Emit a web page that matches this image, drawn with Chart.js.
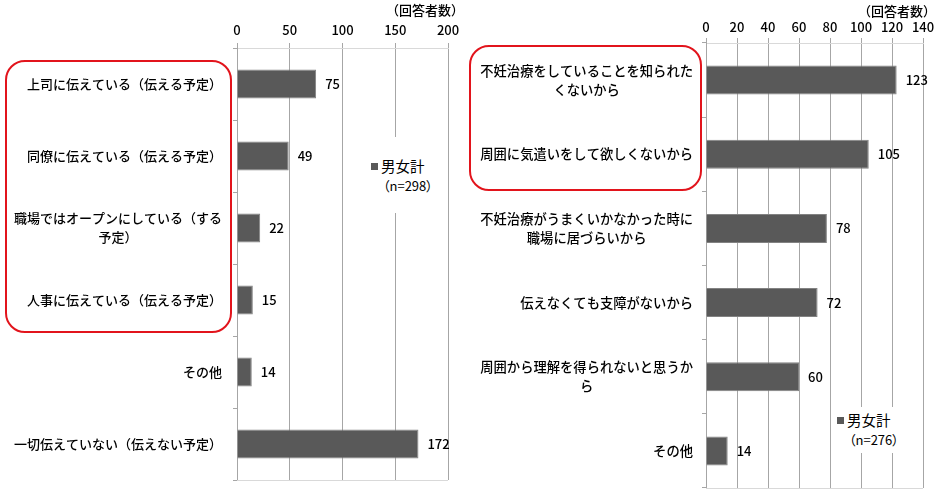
<!DOCTYPE html>
<html lang="ja">
<head>
<meta charset="utf-8">
<script src="https://cdn.jsdelivr.net/npm/chart.js@4.4.0/dist/chart.umd.min.js"></script>
<style>
  body { margin: 0; background: #fff; font-family: "Noto Sans CJK JP", sans-serif; }
  #wrap { position: relative; width: 943px; height: 496px; overflow: hidden; }
  canvas { position: absolute; top: 0; }
  .redbox { position: absolute; box-sizing: border-box; border: 2.5px solid #e2141c; border-radius: 20px; }
  .unit { position: absolute; font-size: 13px; font-weight: 500; color: #000; white-space: nowrap; }
  .legend { position: absolute; background: #fff; font-size: 14.5px; font-weight: 400; color: #000; line-height: 20px; padding: 0 4px; }
  .legend .sw { display: inline-block; width: 7px; height: 7px; background: #595959; margin-right: 3px; vertical-align: 2px; }
  .legend .n { font-size: 13px; font-feature-settings: "palt"; padding-left: 12px; }
</style>
</head>
<body>
<div id="wrap">
  <canvas id="chart-tell" width="470" height="496" style="left:0"></canvas>
  <canvas id="chart-why" width="473" height="496" style="left:470px"></canvas>
  <div class="redbox" style="left:5px;top:60px;width:227px;height:273px"></div>
  <div class="redbox" style="left:469px;top:45px;width:233px;height:146px"></div>
  <div class="unit" style="right:479px;top:0px">（回答者数）</div>
  <div class="unit" style="right:7px;top:1px">（回答者数）</div>
  <div class="legend" id="legend-tell" style="left:367px;top:137px;height:76px;padding-top:19px;box-sizing:border-box"></div>
  <div class="legend" id="legend-why" style="left:833px;top:407px;height:46px;padding-top:3px;box-sizing:border-box"></div>
</div>
<script>
// --- data ---
const seriesName = '男女計';

const tellCategories = [
  '上司に伝えている（伝える予定）',
  '同僚に伝えている（伝える予定）',
  ['職場ではオープンにしている（する', '予定）'],
  '人事に伝えている（伝える予定）',
  'その他',
  '一切伝えていない（伝えない予定）'
];
const tellValues = [75, 49, 22, 15, 14, 172];
const tellTotal = 298;
const tellTicks = [0, 50, 100, 150, 200];

const whyCategories = [
  ['不妊治療をしていることを知られた', 'くないから'],
  '周囲に気遣いをして欲しくないから',
  ['不妊治療がうまくいかなかった時に', '職場に居づらいから'],
  '伝えなくても支障がないから',
  ['周囲から理解を得られないと思うか', 'ら'],
  'その他'
];
const whyValues = [123, 105, 78, 72, 60, 14];
const whyTotal = 276;
const whyTicks = [0, 20, 40, 60, 80, 100, 120, 140];

const FONT = '"Noto Sans CJK JP", sans-serif';
Chart.defaults.font.family = FONT;
Chart.defaults.color = '#000';

// category labels: block right-aligned, lines centred inside the block (Excel style)
const categoryLabels = {
  id: 'categoryLabels',
  afterDraw(chart, args, opts) {
    const { ctx } = chart;
    const y = chart.scales.y;
    ctx.save();
    ctx.font = '500 ' + opts.size + 'px ' + FONT;
    ctx.fillStyle = '#000';
    ctx.textAlign = 'center';
    ctx.textBaseline = 'middle';
    const right = y.right - opts.gap;
    chart.data.labels.forEach((lab, i) => {
      const lines = [].concat(lab);
      const w = Math.max(...lines.map(l => ctx.measureText(l).width));
      const cy = y.getPixelForValue(i);
      const top = cy - (lines.length - 1) * opts.lineHeight / 2;
      lines.forEach((l, k) => ctx.fillText(l, right - w / 2, top + k * opts.lineHeight));
    });
    // light frame line along the bottom
    const a = chart.chartArea;
    ctx.strokeStyle = '#d9d9d9';
    ctx.lineWidth = 1;
    ctx.beginPath();
    ctx.moveTo(a.left, a.bottom + 0.5);
    ctx.lineTo(a.right, a.bottom + 0.5);
    ctx.stroke();
    ctx.restore();
  }
};

// numbers at bar ends
const valueLabels = {
  id: 'valueLabels',
  afterDatasetsDraw(chart) {
    const { ctx } = chart;
    const ds = chart.data.datasets[0];
    ctx.save();
    ctx.font = '500 13px ' + FONT;
    ctx.fillStyle = '#000';
    ctx.textAlign = 'left';
    ctx.textBaseline = 'middle';
    chart.getDatasetMeta(0).data.forEach((bar, i) => {
      ctx.fillText(ds.data[i], bar.x + 9, bar.y);
    });
    ctx.restore();
  }
};

function renderChart(id, labels, values, ticks, box) {
  new Chart(document.getElementById(id), {
    type: 'bar',
    data: {
      labels: labels,
      datasets: [{
        label: seriesName,
        data: values,
        backgroundColor: '#595959',
        borderColor: '#828282',
        borderWidth: 1,
        categoryPercentage: 1,
        barPercentage: box.bar
      }]
    },
    options: {
      indexAxis: 'y',
      responsive: false,
      animation: false,
      layout: { padding: { left: 0, right: box.right, top: 0, bottom: box.bottom } },
      scales: {
        x: {
          position: 'top',
          min: ticks[0],
          max: ticks[ticks.length - 1],
          afterBuildTicks: s => { s.ticks = ticks.map(v => ({ value: v })); },
          afterFit: s => { s.height = box.top; },
          grid: { color: '#a6a6a6', tickLength: 5 },
          border: { color: '#d9d9d9' },
          ticks: { font: { size: 13, weight: 500 }, color: '#000', padding: box.tickPad }
        },
        y: {
          afterFit: s => { s.width = box.left; },
          grid: { offset: true, drawOnChartArea: false, tickLength: 4, color: '#a6a6a6' },
          border: { color: '#a6a6a6' },
          ticks: { display: false }
        }
      },
      plugins: {
        legend: { display: false },
        tooltip: { enabled: false },
        categoryLabels: { size: box.font, gap: box.gap, lineHeight: 19 }
      }
    },
    plugins: [categoryLabels, valueLabels]
  });
}

function renderLegend(id, total) {
  document.getElementById(id).innerHTML =
    '<div><span class="sw"></span>' + seriesName + '</div><div class="n">（n=' + total + '）</div>';
}

renderChart('chart-tell', tellCategories, tellValues, tellTicks,
  { left: 237, top: 48, right: 22, bottom: 16, tickPad: 5, bar: 0.4, font: 13, gap: 15 });
renderChart('chart-why', whyCategories, whyValues, whyTicks,
  { left: 236, top: 43, right: 20, bottom: 8, tickPad: 3, bar: 0.39, font: 13.3, gap: 13 });
renderLegend('legend-tell', tellTotal);
renderLegend('legend-why', whyTotal);
</script>
</body>
</html>
